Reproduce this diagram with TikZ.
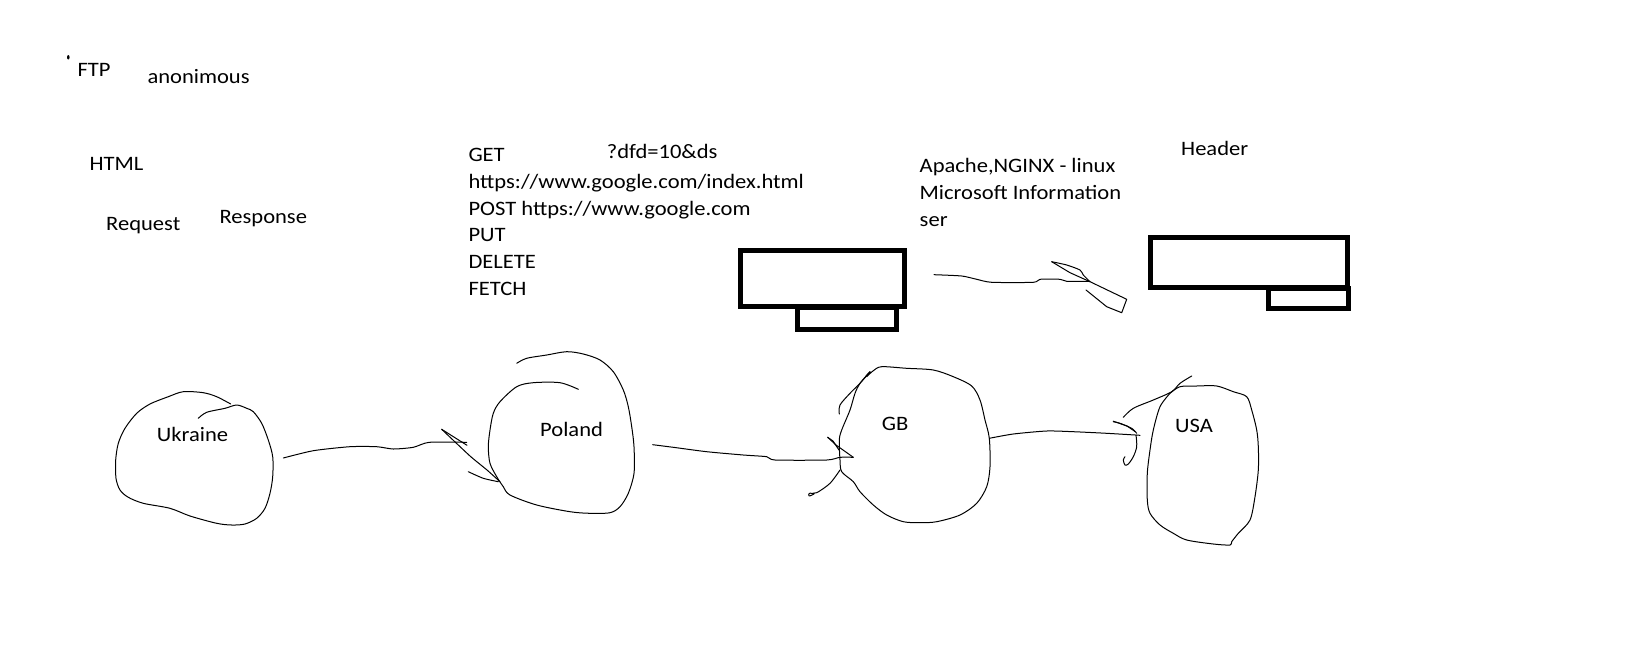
\documentclass[tikz,border=0pt]{standalone}
\usepackage{fontspec}
\setmainfont{Carlito}[FakeStretch=1.1]
\begin{document}
\begin{tikzpicture}[x=1pt,y=-1pt,
  txt/.style={anchor=base west, inner sep=0pt, font=\fontsize{20.5}{27}\selectfont},
  hand/.style={line width=1pt, line join=round, line cap=round},
  boxline/.style={line width=5pt, line join=miter}]
\useasboundingbox[fill=white] (0,0) rectangle (1635,648);

% top-left notes
\fill (68.3,57.3) ellipse [x radius=1.3pt, y radius=2.2pt];
\node[txt] (ftp) at (77.3,76.7) {FTP};
\node[txt] (anon) at (147.3,83.3) {anonimous};
\node[txt] (html) at (89.3,170) {HTML};
\node[txt] (req) at (106,230) {Request};
\node[txt] (resp) at (219.3,223.3) {Response};

% methods
\node[txt] (get) at (468.3,161.5) {GET};
\node[txt] (query) at (606.7,158.3) {?dfd=10\&ds};
\node[txt] (url1) at (468.3,188.3) {https://www.google.com/index.html};
\node[txt] (post) at (468.3,215.1) {POST https://www.google.com};
\node[txt] (put) at (468.3,241.9) {PUT};
\node[txt] (del) at (468.3,268.7) {DELETE};
\node[txt] (fetch) at (468.3,295.5) {FETCH};

% servers
\node[txt] (apache) at (919.5,172.8) {Apache,NGINX - linux};
\node[txt] (ms) at (919.5,199.6) {Microsoft Information};
\node[txt] (ser) at (919.5,226.4) {ser};
\node[txt] (header) at (1181,155) {Header};

% boxes
\draw[boxline] (740.7,250.7) rectangle (904.2,306);
\draw[boxline] (797.8,307.5) rectangle (896.9,329.5);
\draw[boxline] (1150.9,237.5) rectangle (1347.1,287);
\draw[boxline] (1268,288.5) rectangle (1348.7,308);

% arrow between boxes
\draw[hand] plot[smooth, tension=0.4] coordinates {(934,274.7) (961.7,276) (976.7,279.3) (991.7,282.3) (1033.3,282.3) (1040,279.3) (1060,279.3) (1066.7,281.3) (1090,281.3)};
\draw[hand] plot[smooth, tension=0.4] coordinates {(1051.7,261.7) (1066.7,265) (1080,270) (1083.3,275) (1090,281.7)};
\draw[hand] (1051.7,261.7) -- (1070,272.7) -- (1090,281.7);
\draw[hand] (1090,281.7) -- (1126.7,299.3) -- (1121.7,312.7) -- (1106.7,306.7) -- (1086,290);

% Ukraine
\draw[hand] plot[smooth, tension=0.5] coordinates {(230.7,404) (216.7,396.7) (203.3,392.7) (183.3,391.7) (168.3,396.7) (150,404) (136.7,413.3) (125,428.3) (118.3,443.3) (115.7,460) (116,478.3) (120,490) (128.3,497.3) (143.3,503.3) (170,508.3) (190,516) (216.7,523.3) (231.7,525) (245,524) (256.7,518.3) (265,508.3) (270,493.3) (272.7,476.7) (272.7,456.7) (268.3,440) (261.7,423.3) (253.3,411.7) (246.7,408.3) (236.7,405) (225,408.3) (206.7,412.3) (198.3,418.3)};
\node[txt] (ukr) at (156.7,441) {Ukraine};

% Ukraine -> Poland
\draw[hand] plot[smooth, tension=0.4] coordinates {(283.3,458) (313.3,450.7) (350,446.7) (376.7,446.7) (393.3,449) (413.3,447.3) (429.3,442.3) (466.7,442.3)};
\draw[hand] (441.7,429.3) -- (467,445.3);
\draw[hand] plot[smooth, tension=0.3] coordinates {(441.7,429.3) (470,456) (487,470) (500,481.7)};
\draw[hand] plot[smooth, tension=0.4] coordinates {(468.3,471.7) (483.3,478.3) (498.3,481.7)};

% Poland
\draw[hand] plot[smooth, tension=0.5] coordinates {(516.7,363.3) (526.7,358.3) (546.7,355) (566.7,351.7) (583.3,354) (600,360) (613.3,371.7) (623.3,390) (628.3,406.7) (631.7,426.7) (634,446.7) (634,473.3) (628.3,493.3) (620,506.7) (610,512.7) (590,513.3) (570,511.7) (536.7,505) (510,495) (503.3,486.7) (496.7,476.7) (490,463.3) (488.3,446.7) (490,430) (493.3,413.3) (500,401.7) (516.7,386.7) (533.3,382.7) (560,382.7) (578.3,389.3)};
\node[txt] (pol) at (540,436.7) {Poland};

% Poland -> GB
\draw[hand] plot[smooth, tension=0.4] coordinates {(652.7,444.7) (673.3,447.3) (706.7,451.7) (743.3,455) (766.7,456.7) (775,460) (826.7,460) (840,457.3) (853.3,457.3)};
\draw[hand] (853.3,457.3) -- (836,445) -- (827.7,437.3);
\draw[hand] (827.7,437.3) -- (833,441) -- (839,450);
\draw[hand] plot[smooth, tension=0.5] coordinates {(840,470) (830,483.3) (816.7,492.7) (809.3,493.3) (809.3,496) (814,494)};
\draw[hand] plot[smooth, tension=0.5] coordinates {(839.3,414) (840,405) (850,393.3) (860,383.3) (870,371.7) (866,376)};

% GB
\draw[hand] plot[smooth, tension=0.5] coordinates {(866.7,376.7) (873.3,370.7) (881.7,366.7) (906.7,368.3) (933.3,370) (953.3,376.7) (971.7,386) (980,400) (985,420) (989.3,438.3) (990,466.7) (986.7,486.7) (976.7,503.3) (960,515) (936.7,521.7) (920,522.7) (903.3,521.7) (886.7,515) (873.3,505) (860,491.7) (853.3,481.7) (841.7,471.7) (840,460) (839.3,440) (841.7,430) (850,410) (855,393.3) (860,383.3) (870,371.7)};
\node[txt] (gb) at (881.7,430.7) {GB};

% GB -> USA
\draw[hand] plot[smooth, tension=0.4] coordinates {(989.3,438.3) (1013.3,434) (1046.7,431) (1073.3,431.7) (1106.7,433.3) (1140,435.3)};
\draw[hand] plot[smooth, tension=0.4] coordinates {(1113.3,421.7) (1120,423.3) (1131.7,428.3) (1136.7,433.3)};
\draw[hand] (1113.3,421.2) -- (1127,426) -- (1135,431.5);
\draw[hand] plot[smooth, tension=0.5] coordinates {(1136,435) (1136.7,446.7) (1133.3,456.7) (1128.3,464) (1125,465) (1123.3,460) (1125,456.7)};
\draw[hand] plot[smooth, tension=0.5] coordinates {(1123.3,417.3) (1133.3,408.3) (1153.3,400) (1171.7,391.7) (1180,383.3) (1191.7,376)};

% USA
\draw[hand] plot[smooth, tension=0.5] coordinates {(1170,393.3) (1180,386.7) (1196.7,386) (1216.7,386) (1233.3,391.7) (1246.7,396.7) (1251.7,410) (1256.7,430) (1258.3,446.7) (1258.3,470) (1255,496.7) (1250,520) (1238.3,533.3) (1231.7,541.7) (1230,545) (1213.3,544) (1186.7,540) (1173.3,533.3) (1160,525) (1150,513.3) (1147.3,500) (1147.3,473.3) (1150,450) (1153.3,430) (1160,406.7) (1170,393.3)};
\node[txt] (usa) at (1175,432.3) {USA};
\end{tikzpicture}
\end{document}
